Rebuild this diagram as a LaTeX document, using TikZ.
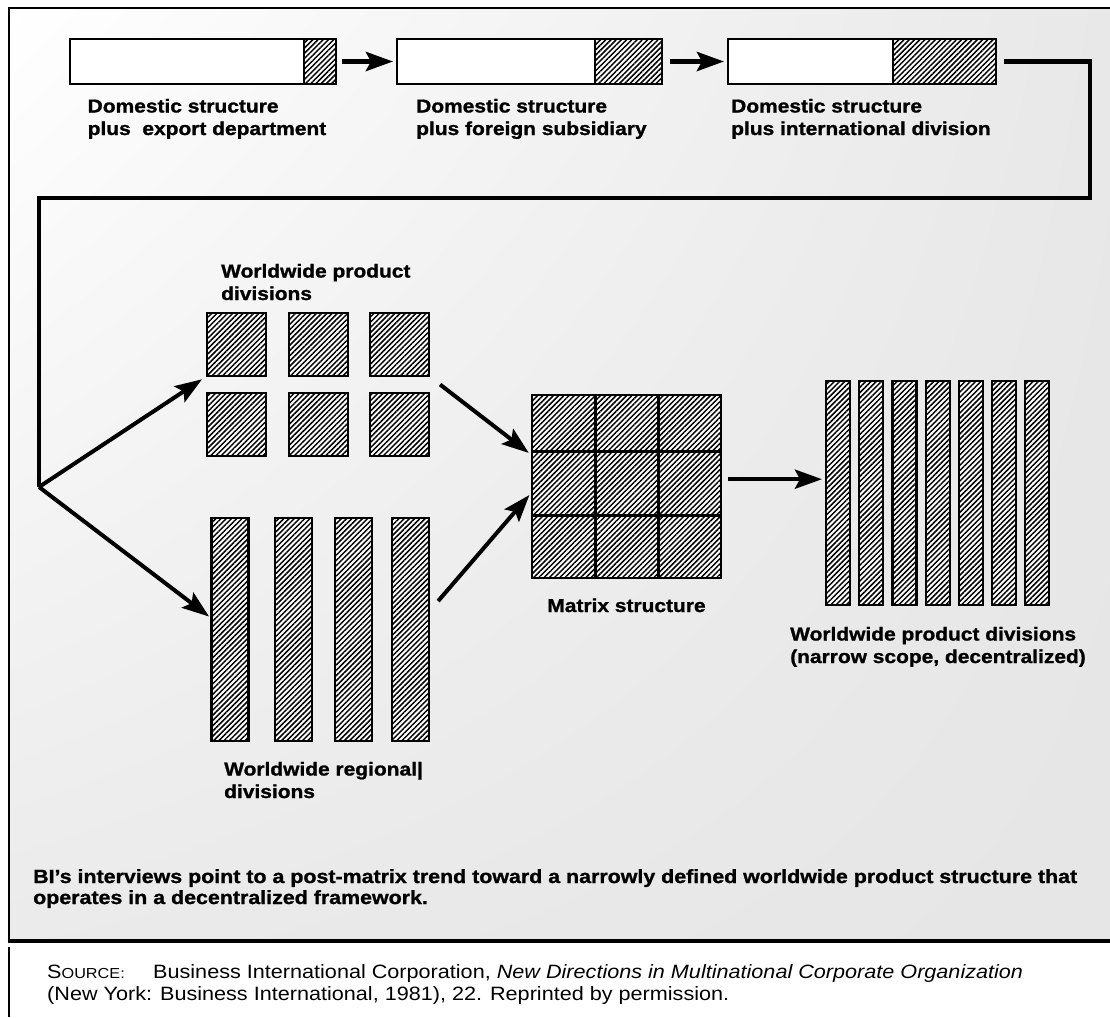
\documentclass[tikz,border=0pt]{standalone}
\usepackage{fontspec}
\setmainfont{Liberation Sans}[FakeStretch=1.12, BoldFeatures={FakeBold=1.2}]
\usetikzlibrary{patterns.meta,arrows.meta,calc,shadings}
\tikzset{
  hatchpat/.style={preaction={fill=white}, pattern={Lines[angle=45,distance=3.7pt,line width=1.5pt]}},
  plainbox/.style={draw=black, line width=2.2pt, fill=white, inner sep=0pt, outer sep=0pt},
  hatchbox/.style={draw=black, line width=2.2pt, hatchpat, inner sep=0pt, outer sep=0pt},
  arr/.style={line width=4.5pt, -{Stealth[length=27pt,width=19pt,inset=5pt]}},
  conn/.style={line width=4.5pt, line join=miter},
  frame/.style={line width=2.6pt},
  gridline/.style={line width=3pt},
  lab/.style={font=\fontsize{18.7}{22.5}\selectfont\bfseries, align=left, anchor=base west, inner sep=0pt},
  note/.style={font=\fontsize{19.1}{21}\selectfont\bfseries, align=left, anchor=base west, inner sep=0pt},
  src/.style={font=\fontsize{19.3}{21.5}\selectfont, align=left, anchor=base west, inner sep=0pt}
}
\begin{document}
\begin{tikzpicture}[x=1pt,y=-1pt]
\useasboundingbox (0,0) rectangle (1110,1017);
\fill[white] (0,0) rectangle (1110,1017);
\shade[upper left=white, upper right=black!9, lower left=black!8, lower right=black!10] (9,8) rectangle (1110,941);
% frame
\draw[frame] (1110,8) -- (9,8) -- (9,941);
\draw[line width=3.4pt] (7.7,941) -- (1110,941);
\draw[frame] (9,947) -- (9,1017);

% top row
\node[plainbox, minimum width=266pt, minimum height=45pt] (b1) at (203,61.5) {};
\draw[hatchbox] ($(b1.north east)+(-32,0)$) rectangle (b1.south east);
\node[plainbox, minimum width=265pt, minimum height=45pt] (b2) at (529.5,61.5) {};
\draw[hatchbox] ($(b2.north east)+(-67,0)$) rectangle (b2.south east);
\node[plainbox, minimum width=268pt, minimum height=45pt] (b3) at (862,61.5) {};
\draw[hatchbox] ($(b3.north east)+(-103,0)$) rectangle (b3.south east);
\draw[arr, line width=5pt, shorten <=6pt, shorten >=4pt] (b1) -- (b2);
\draw[arr, line width=5pt, shorten <=8pt, shorten >=4pt] (b2) -- (b3);

\node[lab] (t1) at (87.5,135) {Domestic structure\\plus~~export department};
\node[lab] (t2) at (416,135) {Domestic structure\\plus foreign subsidiary};
\node[lab] (t3) at (731,135) {Domestic structure\\plus international division};

% connector
\coordinate (j) at (39,487);
\draw[conn, shorten <=8pt] (b3.east) -- (1090,61.5) -- (1090,198) -- (39,198) -- (j);

% worldwide product divisions (squares)
\foreach \x [count=\i] in {236.5,318.5,399.5} {
  \node[hatchbox, minimum width=59pt, minimum height=63pt] (sa\i) at (\x,344.5) {};
  \node[hatchbox, minimum width=59pt, minimum height=63pt] (sb\i) at (\x,424.5) {};
}
\node[lab] (t4) at (221,300) {Worldwide product\\divisions};

% worldwide regional divisions (rods)
\foreach \x [count=\i] in {230,293.5,353.5,410.5} {
  \node[hatchbox, minimum width=37pt, minimum height=223pt] (r\i) at (\x,629.5) {};
}
\node[lab] (t5) at (224,798) {Worldwide regional|\\divisions};

% matrix
\node[hatchbox, minimum width=189pt, minimum height=183pt] (m) at (626.5,486.5) {};
\draw[gridline] ($(m.north west)!1/3!(m.north east)$) -- ($(m.south west)!1/3!(m.south east)$);
\draw[gridline] ($(m.north west)!2/3!(m.north east)$) -- ($(m.south west)!2/3!(m.south east)$);
\draw[gridline] ($(m.north west)!0.31!(m.south west)$) -- ($(m.north east)!0.31!(m.south east)$);
\draw[gridline] ($(m.north west)!0.66!(m.south west)$) -- ($(m.north east)!0.66!(m.south east)$);
\node[lab, anchor=base] (t6) at (626.5,612) {Matrix structure};

% narrow product divisions
\foreach \i in {1,...,7} {
  \node[hatchbox, minimum width=24pt, minimum height=224pt] (n\i) at ({838+33.2*(\i-1)},493) {};
}
\node[lab] (t7) at (790,663) {Worldwide product divisions\\(narrow scope, decentralized)};

% arrows
\draw[arr, line width=4pt, shorten >=6pt] (j) -- (sa1.south west);
\draw[arr, line width=4pt, shorten >=3pt] (j) -- ($(r1.north west)!0.45!(r1.south west)$);
\draw[arr, line width=4pt, shorten <=14pt, shorten >=4pt] (sa3.south east) -- ($(m.north west)!0.33!(m.south west)$);
\draw[arr, line width=4pt, shorten <=14pt, shorten >=4pt] ($(r4.north east)!0.42!(r4.south east)$) -- ($(m.north west)!0.53!(m.south west)$);
\coordinate (mE) at ($(m.north east)!0.46!(m.south east)$);
\draw[arr, line width=4.5pt, shorten <=7pt, shorten >=4pt] (mE) -- (mE -| n1.west);

% note
\node[note] (t8) at (33,904) {BI's interviews point to a post-matrix trend toward a narrowly defined worldwide product structure that\\operates in a decentralized framework.};

% source
\node[src] (t9) at (47,1000) {\makebox[106pt][l]{S{\fontsize{14.5}{15}\selectfont OURCE:}}Business International Corporation, \textit{New Directions in Multinational Corporate Organization}\\(New York: Business International, 1981), 22. Reprinted by permission.};
\end{tikzpicture}
\end{document}
